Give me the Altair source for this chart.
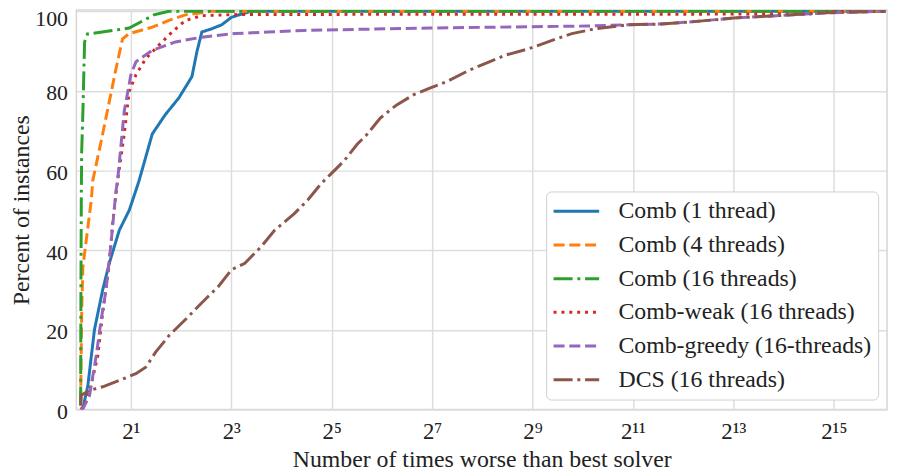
import altair as alt
import pandas as pd

SERIES = ["Comb (1 thread)", "Comb (4 threads)", "Comb (16 threads)",
          "Comb-weak (16 threads)", "Comb-greedy (16-threads)", "DCS (16 threads)"]
COLORS = ["#1f77b4", "#ff7f0e", "#2ca02c", "#d62728", "#9467bd", "#8c564b"]
DASHES = [[1, 0], [11.1, 4.8], [19.2, 4.8, 3, 4.8], [3, 4.95], [11.1, 4.8], [19.2, 4.8, 3, 4.8]]

# ratio to best solver (tau) and percent of instances
TAU_1 = [1.0, 1.032, 1.105, 1.211, 1.357, 1.487, 1.705, 1.955, 2.144, 2.242, 2.689, 3.227,
         3.875, 4.65, 4.976, 5.33, 6.11, 7.01, 8.03, 9.22, 10.52, 66900]
PCT_1 = [0, 0.3, 6.0, 20.1, 30.1, 36.8, 45.0, 50.0, 55.0, 57.5, 69.2, 74.1,
         78.2, 83.6, 89.8, 94.8, 95.6, 96.6, 98.5, 99.3, 100, 100]

TAU_4 = [1.0, 1.005, 1.015, 1.032, 1.158, 1.183, 1.328, 1.487, 1.63, 1.784, 1.955, 2.689,
         3.38, 4.25, 6.09, 66900]
PCT_4 = [2, 10, 25, 35.9, 52.5, 57.5, 67.4, 77.4, 85.6, 93.1, 94.4, 96.0,
         97.7, 99.1, 100, 100]

TAU_16 = [1.0, 1.004, 1.01, 1.015, 1.032, 1.056, 1.10, 1.157, 1.705, 1.955, 2.29, 2.75,
          3.38, 66900]
PCT_16 = [1, 30, 55, 65, 74.9, 92.3, 94.3, 94.4, 95.4, 95.8, 97.3, 99.1,
          100, 100]

TAU_W = [1.0, 1.056, 1.131, 1.267, 1.357, 1.487, 1.556, 1.666, 1.826, 1.955, 2.144, 2.457,
         2.947, 3.535, 4.25, 5.33, 9.0, 23200, 32000, 66900]
PCT_W = [0, 1.0, 4.5, 13.4, 24.4, 36.8, 46.8, 57.5, 69.2, 79.9, 84.0, 88.1,
         91.5, 94.8, 97.7, 98.9, 99.2, 99.3, 100, 100]

TAU_G = [1.0, 1.032, 1.131, 1.239, 1.328, 1.421, 1.522, 1.63, 1.666, 1.826, 2.0, 2.144,
         2.689, 3.70, 5.33, 8.42, 13.3, 21.9, 124, 1107, 1913, 3023, 4770, 8200,
         14900, 29500, 66900]
PCT_G = [0, 0.2, 3.5, 13.4, 22.6, 30.1, 41.8, 55.0, 57.5, 74.9, 84.0, 87.3,
         90.2, 92.3, 93.5, 94.4, 94.8, 95.2, 95.8, 96.3, 96.6, 96.8, 97.4, 98.3,
         98.9, 99.6, 100]

TAU_D = [1.0, 1.01, 1.131, 1.357, 1.705, 2.144, 2.457, 2.817, 3.38, 4.25, 5.33, 6.70,
         8.03, 9.65, 12.1, 14.55, 19.1, 22.9, 27.5, 31.6, 37.9, 45.5, 52.2, 62.6,
         78.6, 98.8, 124, 156, 214, 282, 354, 487, 671, 882, 1214, 1913, 3023,
         4770, 8200, 14900, 29500, 66900]
PCT_D = [1, 3.6, 4.8, 5.7, 7.3, 9.0, 10.6, 14.4, 18.5, 22.6, 26.8, 30.9,
         35.1, 36.7, 40.9, 45.0, 49.2, 52.5, 56.6, 59.1, 62.4, 66.6, 69.1, 73.2,
         76.5, 79.0, 80.7, 82.3, 85.2, 87.3, 89.0, 90.6, 92.7, 94.4, 95.6, 96.6, 96.8,
         97.4, 98.3, 98.9, 99.6, 100]

TICK_VALUES = [2, 8, 32, 128, 512, 2048, 8192, 32768]
TICK_LABELS = ["2¹", "2³", "2⁵", "2⁷", "2⁹", "2¹¹", "2¹³", "2¹⁵"]
Y_TICKS = [0, 20, 40, 60, 80, 100]
X_DOMAIN = [0.943, 68400]
Y_DOMAIN = [0, 100.3]

rows = []
for name, taus, pcts in zip(SERIES, [TAU_1, TAU_4, TAU_16, TAU_W, TAU_G, TAU_D],
                            [PCT_1, PCT_4, PCT_16, PCT_W, PCT_G, PCT_D]):
    for t, p in zip(taus, pcts):
        rows.append({"series": name, "tau": t, "pct": p})
df = pd.DataFrame(rows)

FONT = "Liberation Serif"
label_expr = "[" + ",".join("'%s'" % s for s in TICK_LABELS) + "][indexof([" + \
    ",".join(str(v) for v in TICK_VALUES) + "], datum.value)]"

chart = alt.Chart(df).mark_line(strokeWidth=3, clip=True).encode(
    x=alt.X("tau:Q",
            scale=alt.Scale(type="log", base=2, domain=X_DOMAIN, nice=False),
            axis=alt.Axis(values=TICK_VALUES, labelExpr=label_expr,
                          title="Number of times worse than best solver",
                          ticks=False, domain=False, labelPadding=11, titlePadding=5,
                          labelFontSize=23, titleFontSize=24)),
    y=alt.Y("pct:Q",
            scale=alt.Scale(domain=Y_DOMAIN, nice=False, zero=False),
            axis=alt.Axis(values=Y_TICKS, title="Percent of instances",
                          ticks=False, domain=False, labelPadding=9, titlePadding=1,
                          labelOffset={"condition": {"test": "datum.value == 100", "value": 7},
                                       "value": 2},
                          labelFontSize=22, titleFontSize=24)),
    color=alt.Color("series:N", sort=SERIES,
                    scale=alt.Scale(domain=SERIES, range=COLORS),
                    legend=alt.Legend(title=None)),
    strokeDash=alt.StrokeDash("series:N", sort=SERIES,
                              scale=alt.Scale(domain=SERIES, range=DASHES),
                              legend=alt.Legend(title=None)),
).properties(
    width=818, height=403,
    autosize=alt.AutoSizeParams(type="none"),
    padding={"left": 69, "top": 0, "right": 6, "bottom": 62},
).configure_axis(
    labelFont=FONT, titleFont=FONT, labelColor="#222222", titleColor="#222222",
    titleFontWeight="normal", gridColor="#dddddd", gridWidth=1.5,
).configure_view(
    stroke="#d6d6d6", strokeWidth=1.5,
).configure_legend(
    orient="none", legendX=474, legendY=183,
    fillColor="white", strokeColor="#d0d0d0", cornerRadius=5, padding=6,
    labelFont=FONT, labelFontSize=24, labelColor="#222222", labelOffset=18,
    labelLimit=0, clipHeight=28,
    symbolType="stroke", symbolSize=2116, symbolStrokeWidth=3, rowPadding=6,
)

chart.save("out.html", embed_options={"renderer": "svg", "actions": False})
